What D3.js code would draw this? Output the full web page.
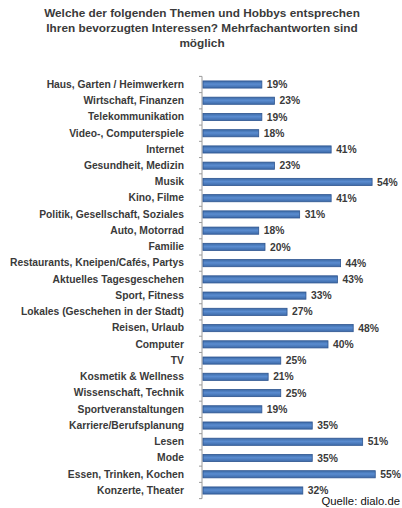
<!DOCTYPE html>
<html><head><meta charset="utf-8">
<script src="https://cdn.jsdelivr.net/npm/d3@7"></script>
<style>body{margin:0;background:#fff}svg{display:block}</style>
</head><body>
<script>
const titleLines = ["Welche der folgenden Themen und Hobbys entsprechen", "Ihren bevorzugten Interessen? Mehrfachantworten sind", "möglich"];
const categories = ["Haus, Garten / Heimwerkern","Wirtschaft, Finanzen","Telekommunikation","Video-, Computerspiele","Internet","Gesundheit, Medizin","Musik","Kino, Filme","Politik, Gesellschaft, Soziales","Auto, Motorrad","Familie","Restaurants,  Kneipen/Cafés, Partys","Aktuelles Tagesgeschehen","Sport, Fitness","Lokales (Geschehen  in der Stadt)","Reisen, Urlaub","Computer","TV","Kosmetik & Wellness","Wissenschaft, Technik","Sportveranstaltungen","Karriere/Berufsplanung","Lesen","Mode","Essen, Trinken, Kochen","Konzerte, Theater"];
const values = [19,23,19,18,41,23,54,41,31,18,20,44,43,33,27,48,40,25,21,25,19,35,51,35,55,32];
const source = "Quelle: dialo.de";

const W = 402, H = 508;
const FONT = "Liberation Sans, Arial, sans-serif";
const svg = d3.select("body").append("svg").attr("width", W).attr("height", H);

const defs = svg.append("defs");
const g = defs.append("linearGradient").attr("id","barGrad").attr("x1",0).attr("y1",0).attr("x2",0).attr("y2",1);
g.append("stop").attr("offset","0%").attr("stop-color","#3c6aa6");
g.append("stop").attr("offset","45%").attr("stop-color","#5a8cd0");
g.append("stop").attr("offset","100%").attr("stop-color","#3d6aa8");

svg.append("g").selectAll("text").data(titleLines).join("text")
  .attr("x", 202).attr("y", (d,i) => 17 + i*15)
  .attr("text-anchor","middle")
  .style("font-family",FONT).style("font-weight","bold")
  .style("font-size","11.8px").style("fill","#3a3a3a").text(d => d);

const x = d3.scaleLinear().domain([0, 100]).range([202, 202 + 315]);
const step = 16.24;
const y = d3.scaleBand().domain(categories)
  .range([84.5 - step/2, 84.5 - step/2 + step*categories.length]).paddingInner(0.56).paddingOuter(0.28);

const axis = d3.axisLeft(y).tickSize(0).tickPadding(18);
const ag = svg.append("g").attr("transform", "translate(202,0)").call(axis);
ag.select(".domain").attr("stroke","#9a9a9a").attr("d", `M0,${y.range()[0]}V${y.range()[1]}`);
ag.selectAll("text").style("font-family",FONT)
  .style("font-weight","bold").style("font-size","10.3px").style("fill","#3a3a3a");
const bounds = d3.range(categories.length + 1).map(i => y.range()[0] + i*y.step());
svg.append("g").selectAll("line").data(bounds).join("line")
  .attr("x1", 199).attr("x2", 202).attr("y1", d => d).attr("y2", d => d)
  .attr("stroke","#9a9a9a").attr("stroke-width",1);

const data = categories.map((c,i) => ({c, v: values[i]}));
svg.append("g").selectAll("rect").data(data).join("rect")
  .attr("x", x(0) + 1).attr("y", d => y(d.c))
  .attr("width", d => x(d.v) - x(0) - 1).attr("height", y.bandwidth())
  .attr("fill","url(#barGrad)").attr("stroke","#2e5590").attr("stroke-width",0.8);

svg.append("g").selectAll("text").data(data).join("text")
  .attr("x", d => x(d.v) + 5).attr("y", d => y(d.c) + y.bandwidth()/2)
  .attr("dy","0.35em")
  .style("font-family",FONT).style("font-weight","bold")
  .style("font-size","10.3px").style("fill","#3a3a3a")
  .text(d => d.v + "%");

svg.append("text").attr("x", 400).attr("y", 505).attr("text-anchor","end")
  .style("font-family",FONT).style("font-size","11.3px")
  .style("fill","#111").text(source);
</script>
</body></html>
